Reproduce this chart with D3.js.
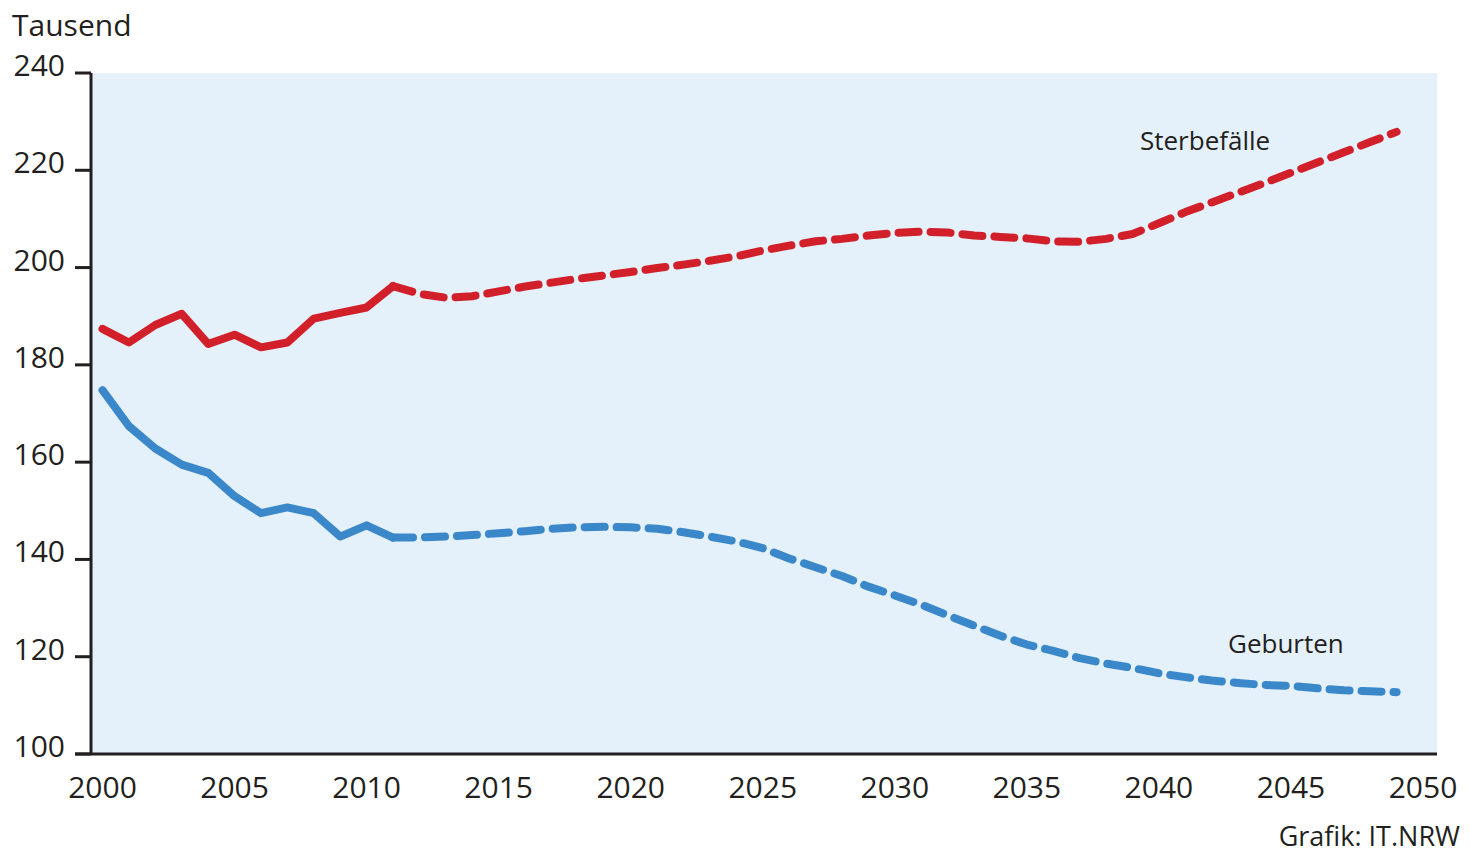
<!DOCTYPE html>
<html>
<head>
<meta charset="utf-8">
<script src="https://cdn.jsdelivr.net/npm/d3@7"></script>
<style>
html,body{margin:0;padding:0;background:#fff;}
svg{display:block;font-family:"Open Sans",sans-serif;}
</style>
</head>
<body>
<svg id="chart" width="1470" height="864"></svg>
<script>
const years = d3.range(2000, 2050);
const sterbefaelle = [187.4,184.6,188.2,190.5,184.3,186.2,183.6,184.6,189.5,190.7,191.8,196.2,194.6,193.8,194.1,195.1,196.1,196.9,197.7,198.4,199.1,199.9,200.6,201.4,202.3,203.5,204.5,205.4,205.9,206.6,207.1,207.4,207.2,206.6,206.3,206.0,205.4,205.3,205.9,206.9,209.1,211.4,213.4,215.4,217.4,219.5,221.6,223.7,225.8,227.9];
const geburten = [174.8,167.4,162.8,159.5,157.8,153.0,149.5,150.7,149.5,144.7,147.0,144.5,144.5,144.7,145.0,145.4,145.8,146.3,146.6,146.7,146.6,146.3,145.6,144.7,143.7,142.3,140.2,138.4,136.6,134.4,132.6,130.7,128.5,126.4,124.3,122.5,121.2,119.7,118.6,117.7,116.6,115.8,115.1,114.6,114.2,114.0,113.5,113.1,112.9,112.7];
const yTicks = [100,120,140,160,180,200,220,240];
const xTicks = [2000,2005,2010,2015,2020,2025,2030,2035,2040,2045,2050];
const observedEnd = 2011;
const seriesLabels = [{name:"Sterbefälle", color:"#d2202a"},{name:"Geburten", color:"#3a88c9"}];

const svg = d3.select("#chart");
const x = d3.scaleLinear().domain([2000, 2050]).range([102.5, 1423]);
const y = d3.scaleLinear().domain([100, 240]).range([754, 73]);
const plotLeft = 91, plotRight = 1437;

svg.append("rect").attr("x", plotLeft).attr("y", y(240)).attr("width", plotRight - plotLeft).attr("height", y(100) - y(240)).attr("fill", "#e4f0fa");

const line = d3.line().x(d => x(d.year)).y(d => y(d.value));

function drawSeries(values, color) {
  const data = years.map((yr, i) => ({year: yr, value: values[i]}));
  const solid = data.filter(d => d.year <= observedEnd);
  const dashed = data.filter(d => d.year >= observedEnd);
  svg.append("path").datum(solid).attr("d", line).attr("fill", "none").attr("stroke", color)
    .attr("stroke-width", 8).attr("stroke-linejoin", "round").attr("stroke-linecap", "round");
  svg.append("path").datum(dashed).attr("d", line).attr("fill", "none").attr("stroke", color)
    .attr("stroke-width", 8).attr("stroke-linejoin", "round").attr("stroke-linecap", "round")
    .attr("stroke-dasharray", "20,12");
}
drawSeries(sterbefaelle, seriesLabels[0].color);
drawSeries(geburten, seriesLabels[1].color);

// axes
const txt = "#231f20";
svg.append("line").attr("x1", plotLeft).attr("x2", plotLeft).attr("y1", y(240)).attr("y2", y(100)).attr("stroke", txt).attr("stroke-width", 3);
svg.append("line").attr("x1", 75).attr("x2", plotRight).attr("y1", y(100)).attr("y2", y(100)).attr("stroke", txt).attr("stroke-width", 3);
yTicks.forEach(t => {
  svg.append("line").attr("x1", 75).attr("x2", plotLeft).attr("y1", y(t)).attr("y2", y(t)).attr("stroke", txt).attr("stroke-width", 3);
  svg.append("text").attr("x", 65).attr("y", y(t) + 3).attr("text-anchor", "end").attr("font-size", 30).attr("fill", txt).text(t);
});
xTicks.forEach(t => {
  svg.append("text").attr("x", x(t)).attr("y", 798).attr("text-anchor", "middle").attr("font-size", 30).attr("fill", txt).text(t);
});

svg.append("text").attr("x", 12).attr("y", 36).attr("font-size", 30).attr("fill", txt).text("Tausend");
svg.append("text").attr("x", 1140).attr("y", 150).attr("font-size", 26).attr("fill", txt).text(seriesLabels[0].name);
svg.append("text").attr("x", 1228).attr("y", 653).attr("font-size", 26).attr("fill", txt).text(seriesLabels[1].name);
svg.append("text").attr("x", 1460).attr("y", 846).attr("text-anchor", "end").attr("font-size", 27).attr("fill", txt).text("Grafik: IT.NRW");
</script>
</body>
</html>
